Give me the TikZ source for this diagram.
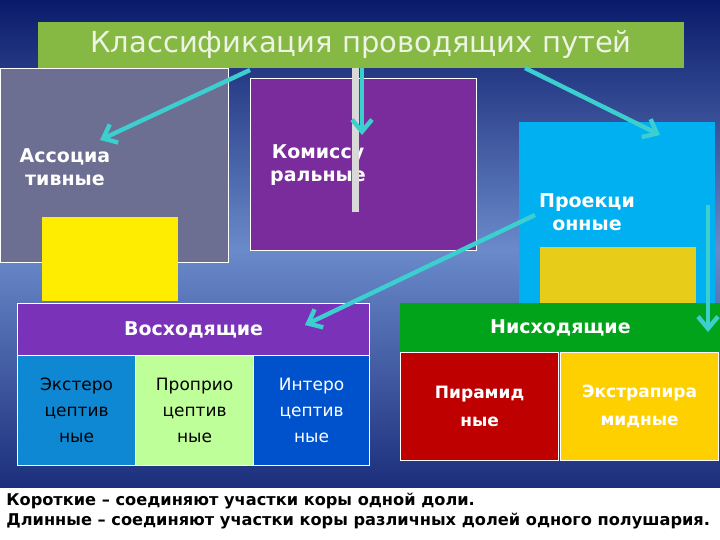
\documentclass[tikz,border=0pt]{standalone}
\usepackage{fontspec}
\setmainfont{DejaVu Sans}
\usetikzlibrary{arrows.meta}
\definecolor{sky1}{HTML}{0A1A6A}
\definecolor{sky2}{HTML}{6A8ACA}
\definecolor{arr}{HTML}{3CCFD0}
\definecolor{grayb}{HTML}{6C6E92}
\definecolor{purp}{HTML}{7A2C9C}
\definecolor{cyb}{HTML}{00B0F0}
\definecolor{ttl}{HTML}{86B844}
\tikzset{
 box/.style={draw=white,line width=0.6pt},
 lbl/.style={text=white,font=\bfseries\fontsize{9.5}{11.5}\selectfont,align=center},
 cell/.style={font=\fontsize{8.5}{13}\selectfont,align=center},
 ar/.style={arr,line width=2.2pt,-{Straight Barb[length=6pt,width=10pt,line width=2.2pt]}}
}
\begin{document}
\begin{tikzpicture}[x=0.5pt,y=-0.5pt]
\useasboundingbox (0,0) rectangle (720,540);
\shade[top color=sky1,bottom color=sky2] (0,0) rectangle (720,250);
\shade[top color=sky2,bottom color=sky1] (0,250) rectangle (720,540);
\node[box,fill=grayb,minimum width=114pt,minimum height=97pt,anchor=north west,inner sep=0] (ass) at (0,68) {};
\node[lbl] (asst) at (65,167) {Ассоциа\\тивные};
\node[box,fill=purp,minimum width=113pt,minimum height=86pt,anchor=north west,inner sep=0] (kom) at (250,78) {};
\node[lbl] (komt) at (318,165) {Комиссу\\ральные};
\node[fill=cyb,minimum width=98pt,minimum height=94pt,anchor=north west,inner sep=0] (pro) at (519,122) {};
\node[lbl] (prot) at (587,212) {Проекци\\онные};
\node[fill=yellow!95!orange,minimum width=68pt,minimum height=42pt,anchor=north west,inner sep=0] (yb) at (42,217) {};
\node[fill=yellow!80!orange!90!black,minimum width=78pt,minimum height=29pt,anchor=north west,inner sep=0] (gb) at (540,247) {};
\fill[gray!30] (352,68) rectangle (359,212);
\node[fill=ttl,minimum width=323pt,minimum height=23pt,anchor=north west,inner sep=0] (tb) at (38,22) {};
\node[text=white!85!ttl,font=\fontsize{14.5}{16}\selectfont] (tt) at (361,45) {Классификация проводящих путей};
\node[box,fill=violet!70!blue!80!white,minimum width=176pt,minimum height=26pt,anchor=north west,inner sep=0,lbl] (up) at (17,303) {Восходящие};
\node[box,fill=cyan!70!blue,minimum width=59pt,minimum height=55pt,anchor=north west,inner sep=0,cell] (e1) at (17,355) {Экстеро\\цептив\\ные};
\node[box,fill=lime!50!green!40!white,minimum width=59pt,minimum height=55pt,anchor=north west,inner sep=0,cell] (e2) at (135,355) {Проприо\\цептив\\ные};
\node[box,fill=blue!60!cyan!80!black,minimum width=58pt,minimum height=55pt,anchor=north west,inner sep=0,cell,text=white] (e3) at (253,355) {Интеро\\цептив\\ные};
\node[fill=green!60!black!90!cyan,minimum width=160pt,minimum height=24.5pt,anchor=north west,inner sep=0,lbl] (down) at (400,303) {Нисходящие};
\node[box,fill=red!75!black,minimum width=79pt,minimum height=54pt,anchor=north west,inner sep=0,lbl,font=\bfseries\fontsize{8.5}{14}\selectfont] (p1) at (400,352) {Пирамид\\ные};
\node[box,fill=orange!30!yellow!90!orange,minimum width=79pt,minimum height=54pt,anchor=north west,inner sep=0,lbl,font=\bfseries\fontsize{8.5}{14}\selectfont] (p2) at (560,352) {Экстрапира\\мидные};
\node[fill=white,minimum width=360pt,minimum height=26pt,anchor=north west,inner sep=0] (bt) at (0,488) {};
\node[anchor=north west,font=\bfseries\fontsize{8.1}{10}\selectfont,align=left,inner sep=0] (btt) at (6,493) {Короткие – соединяют участки коры одной доли.\\Длинные – соединяют участки коры различных долей одного полушария.};
\coordinate (a1) at (250,70); \coordinate (a1e) at (100,140);
\coordinate (a2) at (362,68); \coordinate (a2e) at (362,135);
\coordinate (a3) at (525,68); \coordinate (a3e) at (660,135);
\coordinate (a4) at (535,215); \coordinate (a4e) at (305,325);
\coordinate (a5) at (708,205); \coordinate (a5e) at (708,332);
\draw[ar] (a1)--(a1e);
\draw[ar] (a2)--(a2e);
\draw[ar] (a3)--(a3e);
\draw[ar] (a4)--(a4e);
\draw[ar] (a5)--(a5e);
\end{tikzpicture}
\end{document}
